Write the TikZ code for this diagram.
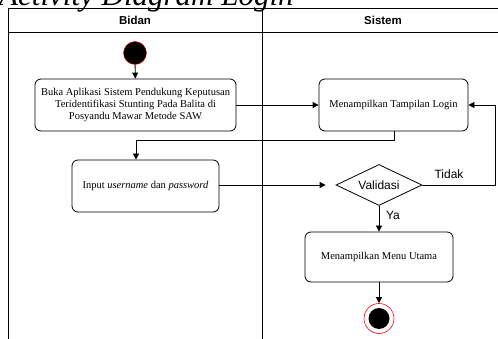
\documentclass[tikz,border=0pt]{standalone}
\usepackage{fontspec}
\setmainfont{Liberation Serif}
\setsansfont{Liberation Sans}
\usetikzlibrary{shapes.geometric,arrows.meta}
\begin{document}
\begin{tikzpicture}[x=1pt,y=-1pt,
  act/.style={draw,rounded corners=6pt,line width=0.8pt,align=center,font=\fontsize{10.5}{11.8}\selectfont,inner sep=0pt},
  lane/.style={draw,line width=0.8pt},
  hdr/.style={font=\sffamily\bfseries\fontsize{11.5}{13}\selectfont},
  lbl/.style={font=\sffamily\fontsize{12}{14}\selectfont},
  flow/.style={line width=0.8pt,-{Triangle[length=6pt,width=6pt]}},
  conn/.style={line width=0.8pt}]
\useasboundingbox (0,0) rectangle (498,339);
\clip (0,0) rectangle (498,339);
% title
\node[anchor=base west,inner sep=0pt,font=\itshape\fontsize{31}{32}\selectfont] (title) at (-1,5.5) {Activity Diagram Login};
% swimlanes
\draw[lane] (8,339) -- (8,8) -- (500,8);
\draw[lane] (8,32) -- (500,32);
\draw[lane] (262,8) -- (262,339);
\node[hdr] (bidan) at (135,20) {Bidan};
\node[hdr] (sistem) at (383,20) {Sistem};
% start
\node[circle,fill=black,draw=red,line width=0.4pt,minimum size=23pt,inner sep=0pt] (start) at (135,53) {};
% activities
\node[act,minimum width=201pt,minimum height=52pt] (buka) at (135.5,105) {Buka Aplikasi Sistem Pendukung Keputusan\\Teridentifikasi Stunting Pada Balita di\\Posyandu Mawar Metode SAW};
\node[act,minimum width=149pt,minimum height=52pt] (login) at (393.5,105) {Menampilkan Tampilan Login};
\node[act,minimum width=147pt,minimum height=52pt] (input) at (145.5,186) {Input \textit{username} dan \textit{password}};
\node[diamond,draw,line width=0.8pt,aspect=2.1,inner sep=1pt,minimum width=86pt,minimum height=41pt,lbl] (valid) at (379,185) {Validasi};
\node[act,minimum width=148pt,minimum height=50pt] (menu) at (379,257) {Menampilkan Menu Utama};
% end
\node[circle,draw=red,line width=0.6pt,minimum size=30pt,inner sep=0pt] (end) at (379,318.5) {};
\node[circle,fill=black,minimum size=21pt,inner sep=0pt] (endin) at (379,318.5) {};
% connectors
\draw[flow] (start) -- (buka);
\draw[flow] (buka) -- (login);
\coordinate (c1) at (394,140);
\coordinate (c2) at (136,140);
\draw[flow] (login.south -| c1) -- (c1) -- (c2) -- (input.north -| c2);
\draw[flow,shorten >=10pt] (input.east |- valid) -- (valid.west);
\coordinate (c3) at (495,185);
\coordinate (c4) at (495,105);
\draw[flow] (valid.east) -- (c3) -- (c4) -- (login.east);
\node[lbl,anchor=center] (tidak) at (449,174) {Tidak};
\draw[flow] (valid.south) -- (menu.north);
\node[lbl] (ya) at (393,215) {Ya};
\draw[flow] (menu.south) -- (end.north);
\end{tikzpicture}
\end{document}
